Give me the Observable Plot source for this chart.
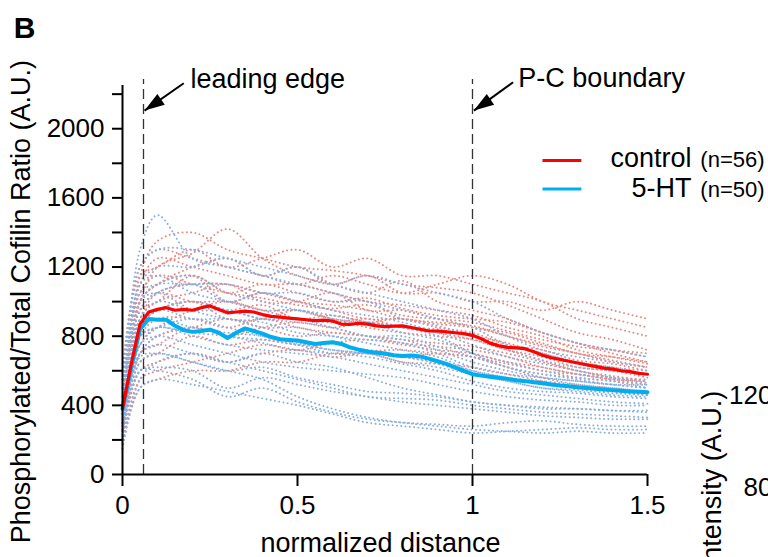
<!DOCTYPE html>
<html><head><meta charset="utf-8">
<script src="https://cdn.jsdelivr.net/npm/d3@7"></script>
<script src="https://cdn.jsdelivr.net/npm/@observablehq/plot@0.6"></script>
<style>
html,body{margin:0;padding:0;background:#fff;overflow:hidden;}
#chart svg{display:block;}
</style></head><body><div id="chart"></div>
<script>
// ---- data ----
const TRACE_X = [0,0.05,0.1,0.2,0.3,0.4,0.5,0.6,0.7,0.8,0.9,1.0,1.1,1.2,1.3,1.4,1.5];
const controlTraces = [
  [420,1150,1350,1400,1300,1250,1200,1180,1150,1100,1080,1050,980,900,820,780,720],
  [350,1000,1200,1280,1420,1250,1150,1100,1050,1120,1000,950,900,820,760,700,650],
  [300,900,1050,1100,1100,1050,1000,980,950,900,880,860,800,750,700,660,620],
  [250,700,800,850,900,850,800,820,800,780,760,740,700,650,600,560,530],
  [500,950,1000,1150,1050,1100,1050,1000,1020,960,920,900,880,820,760,720,680],
  [200,600,650,700,650,700,720,680,700,650,640,620,580,540,500,480,460],
  [380,850,950,1000,950,980,900,920,880,850,840,800,760,700,650,620,580],
  [450,1100,1250,1200,1150,1100,1100,1050,1000,980,950,920,850,800,720,680,640],
  [150,500,550,600,600,650,650,700,700,680,700,680,620,560,520,500,480],
  [600,1200,1300,1250,1200,1150,1100,1150,1100,1050,1100,1150,1100,1000,950,900,850],
  [320,800,900,900,850,900,850,820,800,760,740,720,680,620,580,550,520],
  [280,750,850,950,1000,950,950,900,880,900,850,820,750,720,660,640,600],
  [400,1050,1150,1100,1050,1020,980,960,980,920,900,880,830,780,740,720,700],
  [220,650,700,800,750,780,750,760,720,720,700,680,640,600,560,540,500],
  [350,900,1000,1050,1100,1000,1000,1050,950,950,900,850,820,760,700,680,650],
  [500,1000,1100,1200,1250,1150,1200,1100,1150,1050,1050,1000,1000,950,1000,950,900],
  [260,700,750,850,800,850,880,850,880,850,820,780,720,680,620,600,560],
  [420,950,1050,1000,1000,950,900,880,900,850,830,800,740,700,640,600,580],
  [180,550,600,650,700,750,720,760,780,750,720,700,650,620,580,550,540],
  [550,1150,1200,1300,1200,1250,1300,1200,1250,1150,1150,1100,1050,1000,900,850,800],
  [300,850,950,1000,900,900,950,900,850,820,800,780,720,660,600,570,540],
  [380,1000,1100,1150,1000,1050,1000,950,900,900,870,850,800,740,700,650,620]
];
const htTraces = [
  [450,1300,1500,1250,1200,1150,1100,1050,1000,950,900,850,750,700,650,620,600],
  [350,1000,1100,1150,1050,1000,950,900,880,850,800,700,620,580,550,520,500],
  [300,800,850,900,850,800,750,700,700,680,650,600,560,520,500,480,460],
  [250,650,700,650,600,550,450,380,330,300,280,260,250,240,250,240,240],
  [400,900,950,1000,950,900,880,850,800,780,720,650,600,560,540,520,500],
  [200,600,620,600,500,560,520,480,450,420,400,380,360,340,330,320,320],
  [380,850,900,850,820,800,760,720,700,650,620,580,540,500,480,460,450],
  [500,1100,1200,1200,1250,1150,1200,1100,1050,1000,950,900,800,720,680,650,620],
  [150,550,650,700,650,600,550,500,450,440,430,400,380,360,350,340,330],
  [320,750,800,750,700,650,620,600,580,560,520,480,450,430,420,400,400],
  [420,950,1050,1100,1000,1050,1000,950,920,880,820,750,680,640,600,560,540],
  [280,700,750,700,650,700,650,620,560,500,460,420,400,380,380,370,360],
  [350,850,950,900,900,850,850,800,760,720,680,600,560,540,520,500,480],
  [230,600,600,550,450,500,420,360,320,300,290,280,300,310,290,280,280],
  [550,1200,1300,1300,1250,1200,1150,1100,1150,1100,1050,1000,900,820,760,720,680],
  [300,750,850,800,750,720,700,680,640,600,560,520,480,460,440,420,410],
  [400,1000,1050,950,900,880,820,800,780,760,700,620,580,560,540,520,520],
  [260,680,700,650,600,620,560,520,480,470,450,420,400,390,380,370,370],
  [450,1100,1150,1050,1000,950,950,920,880,820,780,700,650,600,580,560,550],
  [330,800,850,820,800,760,720,700,680,640,600,540,500,480,470,450,440],
  [180,500,550,520,480,440,400,350,300,280,260,240,250,260,270,260,260],
  [380,900,1000,950,950,900,900,850,800,800,740,680,620,580,560,540,520],
  [420,1050,1100,1100,1100,1050,1050,1000,1000,900,860,800,720,660,620,600,580],
  [300,700,800,850,800,780,750,720,700,680,640,580,540,500,490,470,460]
];
const MEAN_X = [0,0.025,0.05,0.075,0.1,0.125,0.15,0.175,0.2,0.225,0.25,0.275,0.3,0.325,0.35,0.375,0.4,0.425,0.45,0.475,0.5,0.525,0.55,0.575,0.6,0.625,0.65,0.675,0.7,0.725,0.75,0.775,0.8,0.825,0.85,0.875,0.9,0.925,0.95,0.975,1.0,1.025,1.05,1.075,1.1,1.125,1.15,1.175,1.2,1.225,1.25,1.275,1.3,1.325,1.35,1.375,1.4,1.425,1.45,1.475,1.5];
const controlMean = [380,640,870,940,955,965,950,955,950,965,975,955,935,940,945,940,925,915,910,905,900,895,890,893,888,870,868,875,870,860,855,858,860,850,840,830,830,825,820,815,805,785,760,745,735,732,728,710,690,675,665,655,645,635,625,615,610,600,595,585,580];
const htMean = [380,620,840,900,895,895,860,835,825,830,838,820,790,820,845,830,815,795,782,778,775,765,755,760,765,755,735,722,712,705,700,690,685,688,683,670,655,640,620,600,580,572,565,560,553,545,540,533,528,520,515,510,505,500,496,492,488,484,480,478,476];
const Y_TICKS = [0,200,400,600,800,1000,1200,1400,1600,1800,2000,2200];
const Y_LABELS = [0,400,800,1200,1600,2000];
const X_TICKS = [0,0.5,1,1.5];
const BOUNDARIES = [0.06, 1];
const seriesNames = ["control","5-HT"];
const seriesN = ["(n=56)","(n=50)"];

// ---- annotations (layout, in data units) ----
const ANNOTATIONS = [{text:"leading edge", x:0.194, y:2235},{text:"P-C boundary", x:1.131, y:2244}];
const ARROWS = [{x1:0.175,y1:2263,x2:0.063,y2:2105},{x1:1.116,y1:2269,x2:1.004,y2:2105}];

const FONT = "'Liberation Sans', Arial, Helvetica, sans-serif";
const RED = "#ff0000", BLUE = "#00aeef";
const RED_LIGHT = "#e68a85", BLUE_LIGHT = "#8aaedd";

function rows(traces, key) {
  const out = [];
  traces.forEach((t, i) => t.forEach((v, j) => out.push({id: key + i, x: TRACE_X[j], y: v})));
  return out;
}
const controlRows = rows(controlTraces, "c");
const htRows = rows(htTraces, "h");
const controlMeanRows = MEAN_X.map((x, i) => ({x, y: controlMean[i]}));
const htMeanRows = MEAN_X.map((x, i) => ({x, y: htMean[i]}));

// slender filled arrowhead pointing down-left, tip at origin
const arrowHead = {
  draw(ctx) {
    ctx.moveTo(0, 0);
    ctx.lineTo(20.2, -5.9);
    ctx.lineTo(12.85, -16.65);
    ctx.closePath();
  }
};

const legend = seriesNames.map((name, i) => ({
  name, n: seriesN[i], color: i === 0 ? RED : BLUE,
  ly: i === 0 ? 1816 : 1652, ty: i === 0 ? 1776 : 1606
}));

const traceStyle = {x: "x", y: "y", z: "id", strokeWidth: 1.9, strokeDasharray: "0.1,4.2", strokeLinecap: "round", curve: "catmull-rom"};

const chart = Plot.plot({
  width: 768, height: 557,
  marginLeft: 122, marginRight: 121, marginTop: 85, marginBottom: 83,
  x: {domain: [0, 1.5]},
  y: {domain: [0, 2250]},
  style: {fontFamily: FONT, fontSize: "26px", color: "#000", background: "#fff"},
  marks: [
    Plot.line(controlRows, {...traceStyle, stroke: RED_LIGHT}),
    Plot.line(htRows, {...traceStyle, stroke: BLUE_LIGHT}),
    Plot.ruleX(BOUNDARIES, {y1: 0, y2: 2285, stroke: "#333", strokeWidth: 1.3, strokeDasharray: "10,5"}),
    Plot.line(htMeanRows, {x: "x", y: "y", stroke: BLUE, strokeWidth: 4}),
    Plot.line(controlMeanRows, {x: "x", y: "y", stroke: RED, strokeWidth: 3.2}),
    Plot.ruleX([0], {y1: 0, y2: 2250, stroke: "#000", strokeWidth: 2}),
    Plot.ruleY([0], {x1: 0, x2: 1.5, stroke: "#000", strokeWidth: 2}),
    Plot.axisY({ticks: Y_TICKS, tickSize: 10, tickPadding: 8, strokeWidth: 2, label: null,
      tickFormat: d => Y_LABELS.includes(d) ? String(d) : ""}),
    Plot.axisX({ticks: X_TICKS, tickSize: 12, tickPadding: 9, strokeWidth: 2, label: null,
      tickFormat: d => String(d)}),
    // arrows
    Plot.link(ARROWS, {x1: "x1", y1: "y1", x2: "x2", y2: "y2", stroke: "#000", strokeWidth: 2}),
    Plot.dot(ARROWS, {x: "x2", y: "y2", symbol: arrowHead, fill: "#000", stroke: "none", r: 5}),
    Plot.text(ANNOTATIONS, {x: "x", y: "y", text: "text", textAnchor: "start", lineAnchor: "bottom", fontSize: 27}),
    // legend
    Plot.link(legend, {x1: 1.2, x2: 1.311, y1: "ly", y2: "ly", stroke: "color", strokeWidth: 3}),
    Plot.text(legend, {x: 1.626, y: "ty", text: "name", textAnchor: "end", lineAnchor: "bottom", fontSize: 27}),
    Plot.text(legend, {x: 1.651, y: "ty", text: "n", textAnchor: "start", lineAnchor: "bottom", fontSize: 22}),
    // axis titles
    Plot.text(["Phosphorylated/Total Cofilin Ratio (A.U.)"], {x: -0.289, y: 1000, text: d => d, rotate: -90, textAnchor: "middle", lineAnchor: "middle", fontSize: 27}),
    Plot.text(["normalized distance"], {x: 0.737, y: -451, text: d => d, textAnchor: "middle", lineAnchor: "bottom", fontSize: 27}),
    // panel letter
    Plot.text(["B"], {x: -0.311, y: 2527, text: d => d, textAnchor: "start", lineAnchor: "bottom", fontSize: 30, fontWeight: "bold"}),
    // neighbouring panel, cropped at the right edge as in the source figure
    Plot.text(["ntensity (A.U.)"], {x: 1.709, y: 485, text: d => d, rotate: -90, textAnchor: "end", lineAnchor: "bottom", fontSize: 27}),
    Plot.text(["120", "80"], {x: 1.857, y: (d, i) => i === 0 ? 408 : -127, text: d => d, textAnchor: "end", lineAnchor: "bottom", fontSize: 26})
  ]
});
document.getElementById("chart").append(chart);
</script></body></html>
